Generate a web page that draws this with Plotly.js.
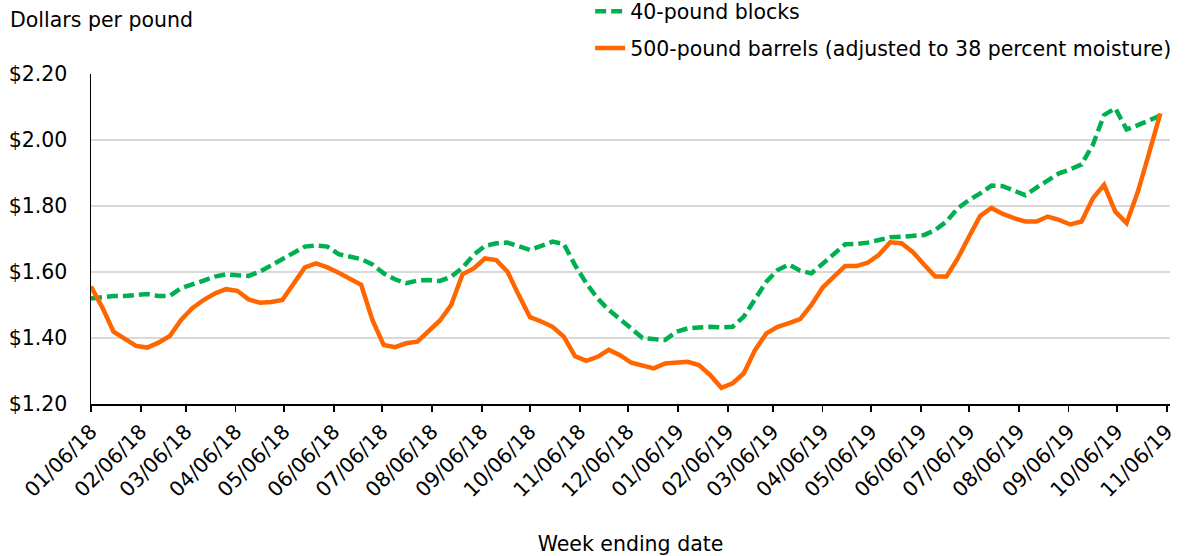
<!DOCTYPE html>
<html>
<head>
<meta charset="utf-8">
<script src="https://cdn.plot.ly/plotly-3.0.1.min.js"></script>
<style>
html,body{margin:0;padding:0;background:#fff;}
#chart{width:1186px;height:556px;}
</style>
</head>
<body>
<div id="chart"></div>
<script>
// Week ending dates (Saturdays)
var weekEnding = [
 '2018-01-06','2018-01-13','2018-01-20','2018-01-27',
 '2018-02-03','2018-02-10','2018-02-17','2018-02-24',
 '2018-03-03','2018-03-10','2018-03-17','2018-03-24','2018-03-31',
 '2018-04-07','2018-04-14','2018-04-21','2018-04-28',
 '2018-05-05','2018-05-12','2018-05-19','2018-05-26',
 '2018-06-02','2018-06-09','2018-06-16','2018-06-23','2018-06-30',
 '2018-07-07','2018-07-14','2018-07-21','2018-07-28',
 '2018-08-04','2018-08-11','2018-08-18','2018-08-25',
 '2018-09-01','2018-09-08','2018-09-15','2018-09-22','2018-09-29',
 '2018-10-06','2018-10-13','2018-10-20','2018-10-27',
 '2018-11-03','2018-11-10','2018-11-17','2018-11-24',
 '2018-12-01','2018-12-08','2018-12-15','2018-12-22','2018-12-29',
 '2019-01-05','2019-01-12','2019-01-19','2019-01-26',
 '2019-02-02','2019-02-09','2019-02-16','2019-02-23',
 '2019-03-02','2019-03-09','2019-03-16','2019-03-23','2019-03-30',
 '2019-04-06','2019-04-13','2019-04-20','2019-04-27',
 '2019-05-04','2019-05-11','2019-05-18','2019-05-25',
 '2019-06-01','2019-06-08','2019-06-15','2019-06-22','2019-06-29',
 '2019-07-06','2019-07-13','2019-07-20','2019-07-27',
 '2019-08-03','2019-08-10','2019-08-17','2019-08-24','2019-08-31',
 '2019-09-07','2019-09-14','2019-09-21','2019-09-28',
 '2019-10-05','2019-10-12','2019-10-19','2019-10-26',
 '2019-11-02'
];

// 40-pound blocks, dollars per pound
var blocks = [
 1.520,1.525,1.527,1.527,1.530,1.533,1.527,1.528,1.551,1.561,
 1.574,1.586,1.593,1.590,1.588,1.601,1.620,1.641,1.661,1.677,
 1.680,1.677,1.654,1.647,1.639,1.623,1.596,1.578,1.566,1.574,
 1.576,1.573,1.586,1.613,1.652,1.679,1.687,1.689,1.679,1.667,
 1.679,1.692,1.685,1.621,1.566,1.520,1.485,1.455,1.429,1.400,
 1.396,1.394,1.419,1.429,1.432,1.434,1.432,1.434,1.465,1.520,
 1.571,1.606,1.623,1.604,1.596,1.625,1.655,1.684,1.685,1.689,
 1.697,1.705,1.707,1.709,1.712,1.727,1.753,1.793,1.818,1.838,
 1.862,1.860,1.846,1.833,1.856,1.877,1.899,1.911,1.926,1.985,
 2.076,2.096,2.032,2.045,2.059,2.074
];

// 500-pound barrels (adjusted to 38 percent moisture), dollars per pound
var barrels = [
 1.556,1.493,1.419,1.399,1.376,1.371,1.386,1.406,1.455,1.490,
 1.515,1.535,1.548,1.543,1.517,1.507,1.509,1.515,1.566,1.614,
 1.626,1.614,1.598,1.578,1.561,1.455,1.379,1.372,1.384,1.389,
 1.422,1.453,1.500,1.593,1.611,1.641,1.636,1.601,1.530,1.463,
 1.450,1.434,1.404,1.345,1.331,1.343,1.364,1.348,1.325,1.315,
 1.308,1.323,1.326,1.328,1.318,1.288,1.249,1.263,1.293,1.364,
 1.414,1.434,1.445,1.457,1.500,1.553,1.586,1.618,1.618,1.628,
 1.652,1.690,1.687,1.661,1.623,1.586,1.586,1.641,1.707,1.770,
 1.794,1.776,1.763,1.753,1.753,1.768,1.758,1.744,1.753,1.823,
 1.864,1.783,1.748,1.843,1.960,2.081
];

// X tick positions and labels
var xTickVals = [
 '2018-01-06','2018-02-06','2018-03-06','2018-04-06','2018-05-06','2018-06-06',
 '2018-07-06','2018-08-06','2018-09-06','2018-10-06','2018-11-06','2018-12-06',
 '2019-01-06','2019-02-06','2019-03-06','2019-04-06','2019-05-06','2019-06-06',
 '2019-07-06','2019-08-06','2019-09-06','2019-10-06','2019-11-06'
];
var xTickText = [
 '01/06/18','02/06/18','03/06/18','04/06/18','05/06/18','06/06/18',
 '07/06/18','08/06/18','09/06/18','10/06/18','11/06/18','12/06/18',
 '01/06/19','02/06/19','03/06/19','04/06/19','05/06/19','06/06/19',
 '07/06/19','08/06/19','09/06/19','10/06/19','11/06/19'
];
var yTickVals = [1.2, 1.4, 1.6, 1.8, 2.0, 2.2];
var yTickText = ['$1.20','$1.40','$1.60','$1.80','$2.00','$2.20'];

var FONT = 'DejaVu Sans, Liberation Sans, Arial, sans-serif';
var FS = 20.5;

var traces = [
  {
    x: weekEnding, y: blocks, type: 'scatter', mode: 'lines',
    name: '40-pound blocks', legendgroup: 'a',
    line: {color: '#00B050', width: 4.5, dash: '11px,5px'}
  },
  {
    x: weekEnding, y: barrels, type: 'scatter', mode: 'lines',
    name: '500-pound barrels (adjusted to 38 percent moisture)', legendgroup: 'b',
    line: {color: '#FF6600', width: 4.5}
  }
];

var layout = {
  width: 1186, height: 556,
  margin: {l: 91, r: 16, t: 74, b: 152, autoexpand: false},
  paper_bgcolor: '#ffffff', plot_bgcolor: '#ffffff',
  font: {family: FONT, size: FS, color: '#000000'},
  showlegend: true,
  legend: {
    x: 0.4626, xanchor: 'left', y: 1.25, yanchor: 'top',
    traceorder: 'grouped', tracegroupgap: 7,
    font: {family: FONT, size: FS, color: '#000'},
    bgcolor: 'rgba(0,0,0,0)', borderwidth: 0
  },
  xaxis: {
    type: 'date',
    range: ['2018-01-06', '2019-11-08'],
    tickmode: 'array', tickvals: xTickVals, ticktext: xTickText,
    tickangle: -45,
    ticks: 'outside', ticklen: 6, tickwidth: 1.5, tickcolor: '#000',
    showline: true, linecolor: '#000', linewidth: 1.5,
    showgrid: false, zeroline: false,
    tickfont: {family: FONT, size: FS, color: '#000'},
    title: {text: 'Week ending date', font: {family: FONT, size: FS, color: '#000'}, standoff: 36},
    automargin: false
  },
  yaxis: {
    range: [1.2, 2.2],
    tickmode: 'array', tickvals: yTickVals, ticktext: yTickText,
    ticks: 'outside', ticklen: 18, tickcolor: 'rgba(0,0,0,0)',
    showline: true, linecolor: '#000', linewidth: 1.5,
    showgrid: true, gridcolor: '#d9d9d9', gridwidth: 2,
    zeroline: false,
    tickfont: {family: FONT, size: FS, color: '#000'},
    automargin: false
  },
  annotations: [
    {
      text: 'Dollars per pound', xref: 'paper', yref: 'paper',
      x: -0.0766, xanchor: 'left', y: 1.164, yanchor: 'middle',
      showarrow: false, font: {family: FONT, size: FS, color: '#000'}
    }
  ]
};

Plotly.newPlot('chart', traces, layout, {displayModeBar: false, staticPlot: true});
</script>
</body>
</html>
